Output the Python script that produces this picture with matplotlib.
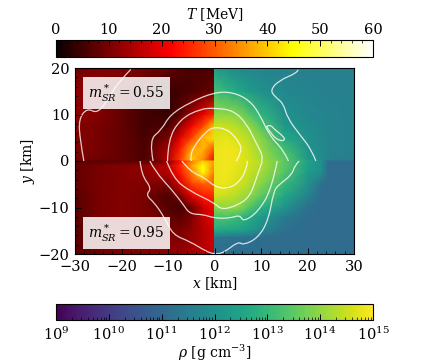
import numpy as np
import matplotlib
matplotlib.use('Agg')
import matplotlib.pyplot as plt
from matplotlib.colors import LogNorm, Normalize
from matplotlib.cm import ScalarMappable
from matplotlib.patches import PathPatch
from matplotlib.path import Path
from matplotlib.ticker import MultipleLocator, LogLocator, NullFormatter

plt.rcParams['font.family'] = 'DejaVu Serif'
plt.rcParams['mathtext.fontset'] = 'dejavuserif'

# grid positions of the values
x_left = [-30, -25, -20, -15, -10, -7.5, -5, -2.5, 0]
x_right = [0, 2.5, 5, 7.5, 10, 15, 20, 25, 30]
x_right_low = [0, 2.5, 5, 7.5, 10, 15, 20, 23, 24.5, 30]
y_up = [0, 2.5, 5, 7.5, 10, 15, 20]
y_low = [0, -1, -2.5, -5, -7.5, -10, -15, -20]
y_low_r = [0, -2.5, -5, -7.5, -10, -12, -15, -16.5, -20]

# temperature in MeV, m*=0.55 (upper left)
T_upper = [
    [10, 9, 8, 6, 15, 27, 40, 34, 20],
    [11, 10, 8, 6, 14, 24, 37, 38, 28],
    [11, 10, 8, 5.5, 10, 19, 27, 38, 42],
    [11, 10, 8, 5, 6, 12, 21, 28, 40],
    [12, 11, 8, 5, 4, 7, 13, 20, 26],
    [12, 11, 9, 6, 4, 5, 6, 7, 9],
    [9, 11, 11, 10, 8, 7, 6, 6, 6],
]
# temperature in MeV, m*=0.95 (lower left)
T_lower = [
    [7, 7, 7, 7, 11, 22, 32, 40, 36],
    [8, 10, 11, 12, 15, 25, 36, 45, 34],
    [8, 10, 11, 12, 15, 23, 33, 45, 32],
    [8, 10, 11, 11, 10, 18, 27, 30, 30],
    [7, 10, 11, 10, 6, 10, 19, 24, 26],
    [7, 10, 11, 10, 7, 5, 9, 17, 22],
    [7, 10, 11, 10, 10, 10, 12, 15, 18],
    [7, 9, 11, 11, 12, 12, 14, 15, 17],
]
# log10 density, upper right
logrho_upper = [
    [14.8, 14.9, 14.8, 14.6, 14.2, 13.5, 12.3, 11.6, 11.5],
    [14.8, 14.9, 14.8, 14.5, 14.1, 13.2, 12.1, 11.7, 11.6],
    [14.7, 14.8, 14.6, 14.3, 13.9, 12.6, 12.0, 11.7, 11.6],
    [14.5, 14.5, 14.3, 14.0, 13.4, 12.2, 11.9, 11.7, 11.6],
    [14.0, 14.0, 13.9, 13.4, 12.9, 12.0, 11.8, 11.7, 11.6],
    [13.2, 12.9, 12.6, 12.3, 12.0, 11.8, 11.7, 11.6, 11.6],
    [12.3, 12.0, 11.8, 11.7, 11.7, 11.6, 11.6, 11.6, 11.6],
]
# log10 density, lower right
logrho_lower = [
    [14.8, 14.9, 14.8, 14.6, 14.3, 13.5, 12.5, 12.0, 11.1, 11.1],
    [14.8, 14.9, 14.7, 14.5, 14.2, 13.4, 12.3, 11.9, 11.1, 11.1],
    [14.8, 14.8, 14.6, 14.3, 13.9, 13.0, 12.0, 11.2, 11.1, 11.1],
    [14.6, 14.5, 14.3, 14.0, 13.5, 12.6, 11.7, 11.1, 11.1, 11.1],
    [13.9, 14.0, 14.0, 13.4, 12.8, 12.1, 11.2, 11.1, 11.1, 11.1],
    [13.3, 13.3, 13.1, 12.7, 12.3, 11.5, 11.1, 11.1, 11.1, 11.1],
    [12.6, 12.5, 12.4, 12.2, 11.8, 11.2, 11.1, 11.1, 11.1, 11.1],
    [11.3, 11.3, 11.2, 11.2, 11.1, 11.1, 11.1, 11.1, 11.1, 11.1],
    [11.1, 11.1, 11.1, 11.1, 11.1, 11.1, 11.1, 11.1, 11.1, 11.1],
]

# white contour lines, (x, y) in km
contour_a_up = [(-28.1, 0), (-28.9, 4.5), (-29.2, 9), (-27.4, 11.4), (-25.2, 10.2), (-23, 13.1),
                (-20.9, 16.7), (-18, 19.7)]
contour_a_up_r = [(18, 19.6), (17.7, 18.9), (14, 17.4), (12.0, 15.3), (13, 13.8), (14.8, 12.4),
                  (15.7, 9.2), (18.4, 5.6), (20.9, 2.4), (21.8, 0)]
loop = [(11.2, 7.4), (11.9, 7.9), (13, 6.7), (14.8, 5.3), (15.2, 4.5), (14, 4.3), (12.3, 5.6), (11.2, 7.4)]
contour_b_up = [(-13.2, 0), (-14.1, 4.5), (-11.4, 6.7), (-9.6, 9.9), (-5.3, 12.6), (0, 14.8), (4, 14.8),
                (7.6, 13), (9.8, 9.9), (11.9, 5.3), (14.8, 2.4), (15.9, 0)]
contour_c_up = [(-10.1, 0), (-10, 4.5), (-7.4, 9), (-3.1, 11.2), (0, 11.4), (4, 10.9), (6.8, 8.2),
                (9, 3.8), (10.5, 0.9), (10.1, 0)]
contour_d_up = [(-5, 0), (-5.2, 1), (-4.5, 3), (-2, 6.2), (0, 7.4), (3.2, 6.6), (5.4, 3.9), (5.9, 2.1), (4.7, 0)]
contour_a_low = [(-16, 0), (-15.7, -3), (-13.5, -5.9), (-14.8, -7.3), (-12.8, -9.1), (-10.7, -12.3),
                 (-8.9, -15.9), (-5.3, -17.3), (-1.7, -19.5), (0, -20), (1.9, -19.8), (5.1, -17.3),
                 (6.2, -18.1), (9.4, -16.5), (11.6, -12.7), (12.7, -6.6), (13.7, -5.2), (16.6, -3),
                 (17.3, -0.9), (18.2, 0)]
contour_b_low = [(-13.9, 0), (-12.8, -2.2), (-8.9, -6.5), (-6.7, -9.4), (-5.3, -11.4), (-2.4, -11.5),
                 (0, -12.3), (3.3, -12.3), (5.5, -11.6), (6.2, -13.1), (9.4, -10.9), (12.3, -6), (13.5, 0)]
contour_c_low = [(-10.3, 0), (-8.9, -3.7), (-5.3, -6.5), (0, -9), (1.5, -10.5), (4.8, -9.6), (7.6, -7.7),
                 (9, -3.7), (10.3, 0)]
contour_d_low = [(-7, 0), (-5.3, -2.2), (-2.1, -3.6), (0, -5.5), (2.6, -6), (5.1, -4.8), (6.9, -1.9), (7.1, 0)]
contours = [contour_a_up, contour_a_up_r, loop, contour_b_up, contour_c_up, contour_d_up,
            contour_a_low, contour_b_low, contour_c_low, contour_d_low]

T_ticks = [0, 10, 20, 30, 40, 50, 60]
rho_ticks = [1e9, 1e10, 1e11, 1e12, 1e13, 1e14, 1e15]

W, H = 434, 364
fig = plt.figure(figsize=(W / 100, H / 100), dpi=100)

def box(x0, y0, x1, y1):
    return [x0 / W, 1 - y1 / H, (x1 - x0) / W, (y1 - y0) / H]

def smooth_path(pts):
    # quadratic bezier segments through the midpoints, read points stay as control points
    pts = np.array(pts, dtype=float)
    verts = [pts[0]]
    codes = [Path.MOVETO]
    for i in range(1, len(pts) - 1):
        end = pts[i + 1] if i == len(pts) - 2 else (pts[i] + pts[i + 1]) / 2
        verts += [pts[i], end]
        codes += [Path.CURVE3, Path.CURVE3]
    return Path(verts, codes)

ax = fig.add_axes(box(75, 68, 354, 254))
cax_T = fig.add_axes(box(56, 40, 373, 56.5))
cax_rho = fig.add_axes(box(56, 304, 373, 320))

T_norm = Normalize(0, 60)
rho_norm = Normalize(9, 15)

ax.pcolormesh(x_left, y_up, np.array(T_upper), cmap='hot', norm=T_norm, shading='gouraud', rasterized=True)
ax.pcolormesh(x_left, y_low, np.array(T_lower), cmap='hot', norm=T_norm, shading='gouraud', rasterized=True)
ax.pcolormesh(x_right, y_up, np.array(logrho_upper), cmap='viridis', norm=rho_norm, shading='gouraud', rasterized=True)
ax.pcolormesh(x_right_low, y_low_r, np.array(logrho_lower), cmap='viridis', norm=rho_norm, shading='gouraud', rasterized=True)

for c in contours:
    ax.add_patch(PathPatch(smooth_path(c), facecolor='none', edgecolor='white', lw=0.9, alpha=0.8))

ax.set_xlim(-30, 30)
ax.set_ylim(-20, 20)
ax.set_xticks([-30, -20, -10, 0, 10, 20, 30])
ax.set_yticks([-20, -10, 0, 10, 20])
ax.xaxis.set_minor_locator(MultipleLocator(2))
ax.yaxis.set_minor_locator(MultipleLocator(2))
ax.tick_params(which='major', direction='in', length=4, width=0.7, labelsize=10.5, pad=4)
ax.tick_params(which='minor', direction='in', length=2, width=0.5)
ax.set_xlabel(r'$x$ [km]', fontsize=10, labelpad=1)
ax.set_ylabel(r'$y$ [km]', fontsize=10, labelpad=1)

label_box = dict(facecolor='white', edgecolor='none', alpha=0.85, pad=4)
ax.text(-19, 14.6, r'$m^*_{SR} = 0.55$', fontsize=10, ha='center', va='center', bbox=label_box)
ax.text(-19, -15.5, r'$m^*_{SR} = 0.95$', fontsize=10, ha='center', va='center', bbox=label_box)

cb_T = fig.colorbar(ScalarMappable(norm=T_norm, cmap='hot'), cax=cax_T, orientation='horizontal')
cb_T.set_ticks(T_ticks)
cax_T.xaxis.set_ticks_position('top')
cax_T.xaxis.set_label_position('top')
cax_T.xaxis.set_minor_locator(MultipleLocator(2))
cax_T.tick_params(which='major', direction='in', length=4, width=0.7, labelsize=10.5, pad=2)
cax_T.tick_params(which='minor', direction='in', length=2, width=0.5)
cb_T.set_label(r'$T$ [MeV]', fontsize=10, labelpad=3)

rho_mappable = ScalarMappable(norm=LogNorm(1e9, 1e15), cmap='viridis')
cb_rho = fig.colorbar(rho_mappable, cax=cax_rho, orientation='horizontal')
cb_rho.set_ticks(rho_ticks)
cax_rho.xaxis.set_minor_locator(LogLocator(base=10, subs=np.arange(2, 10), numticks=20))
cax_rho.xaxis.set_minor_formatter(NullFormatter())
cax_rho.tick_params(which='major', direction='in', length=4, width=0.7, labelsize=10.5, pad=4)
cax_rho.tick_params(which='minor', direction='in', length=2, width=0.5)
cb_rho.set_label(r'$\rho$ [g cm$^{-3}$]', fontsize=10, labelpad=0)

fig.savefig('out.png', dpi=100)
